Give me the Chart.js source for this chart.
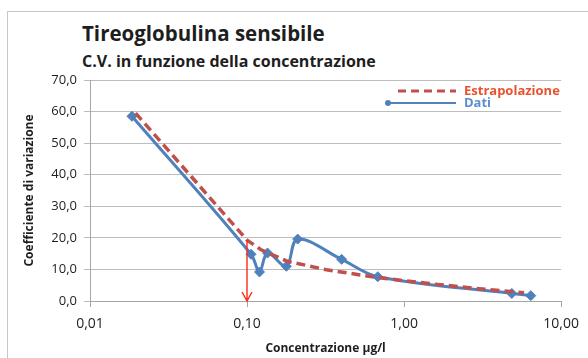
<!DOCTYPE html>
<html>
<head>
<meta charset="utf-8">
<script src="https://cdn.jsdelivr.net/npm/chart.js@4.4.1/dist/chart.umd.min.js"></script>
<style>
    html, body { margin: 0; padding: 0; background: #fff; overflow: hidden; }
    #wrap { position: relative; width: 588px; height: 358px; overflow: hidden; }
    #frame { position: absolute; left: 7px; top: 11px; width: 640px; height: 420px; border: 1px solid #c6c6c6; }
    #title { position: absolute; left: 82px; top: 19px; font: bold 20.5px 'Open Sans', sans-serif; color: #1e1e1e; white-space: nowrap; }
    #subtitle { position: absolute; left: 82px; top: 50px; font: bold 16px 'Open Sans', sans-serif; color: #1e1e1e; white-space: nowrap; }
    #chart { position: absolute; left: 0; top: 0; }
</style>
</head>
<body>
<div id="wrap">
    <div id="frame"></div>
    <div id="title">Tireoglobulina sensibile</div>
    <div id="subtitle">C.V. in funzione della concentrazione</div>
    <canvas id="chart" width="588" height="358"></canvas>
</div>
<script>
// Data
const datiX = [0.0185, 0.106, 0.120, 0.135, 0.178, 0.210, 0.40, 0.68, 4.85, 6.4];
const datiY = [58.5, 14.8, 9.2, 15.2, 11.0, 19.6, 13.2, 7.7, 2.4, 1.7];

const estrapX = [0.0195, 0.10, 0.122, 0.18, 0.32, 0.66, 1.4, 3.0, 5.8];
const estrapY = [59.5, 19.3, 16.3, 12.6, 9.9, 7.5, 5.6, 3.9, 2.6];

const xTicks = [0.01, 0.1, 1, 10];
const yTicks = [0, 10, 20, 30, 40, 50, 60, 70];

const arrowAt = { x: 0.1, yTop: 19.3, yBottom: 0 };

const BLUE = '#4f81bd';
const RED = '#c0504d';

const toPoints = (xs, ys) => xs.map((x, i) => ({ x: x, y: ys[i] }));
const comma = (v, d) => v.toFixed(d).replace('.', ',');

// Red arrow pointing down to the x axis
const arrowPlugin = {
    id: 'arrow',
    afterDatasetsDraw(chart) {
        const { ctx, scales: { x, y } } = chart;
        const px = Math.round(x.getPixelForValue(arrowAt.x));
        const top = y.getPixelForValue(arrowAt.yTop);
        const bottom = y.getPixelForValue(arrowAt.yBottom);
        ctx.save();
        ctx.strokeStyle = '#ff2a1a';
        ctx.lineWidth = 1.4;
        ctx.beginPath();
        ctx.moveTo(px, top);
        ctx.lineTo(px, bottom);
        ctx.moveTo(px - 5, bottom - 9);
        ctx.lineTo(px, bottom);
        ctx.lineTo(px + 5, bottom - 9);
        ctx.stroke();
        ctx.restore();
    }
};

// Legend drawn inside the plot, top right
const legendPlugin = {
    id: 'insideLegend',
    afterDraw(chart) {
        const { ctx } = chart;
        ctx.save();
        ctx.font = 'bold 13px "Open Sans", sans-serif';
        ctx.textBaseline = 'middle';

        // Estrapolazione
        ctx.strokeStyle = RED;
        ctx.lineWidth = 3;
        ctx.setLineDash([8, 5]);
        ctx.beginPath();
        ctx.moveTo(398, 91);
        ctx.lineTo(456, 91);
        ctx.stroke();
        ctx.setLineDash([]);
        ctx.fillStyle = '#e8522f';
        ctx.fillText('Estrapolazione', 464, 91);

        // Dati
        ctx.strokeStyle = BLUE;
        ctx.lineWidth = 2;
        ctx.beginPath();
        ctx.moveTo(388, 103);
        ctx.lineTo(456, 103);
        ctx.stroke();
        ctx.fillStyle = BLUE;
        ctx.beginPath();
        ctx.arc(388, 103, 3, 0, Math.PI * 2);
        ctx.fill();
        ctx.fillStyle = '#5b8fd1';
        ctx.fillText('Dati', 464, 103);
        ctx.restore();
    }
};

new Chart(document.getElementById('chart'), {
    type: 'line',
    data: {
        datasets: [
            {
                label: 'Estrapolazione',
                data: toPoints(estrapX, estrapY),
                borderColor: RED,
                borderWidth: 3.5,
                borderDash: [9, 5],
                pointRadius: 0,
                tension: 0,
                fill: false
            },
            {
                label: 'Dati',
                data: toPoints(datiX, datiY),
                borderColor: BLUE,
                backgroundColor: BLUE,
                borderWidth: 3,
                pointStyle: 'rectRot',
                pointRadius: 5,
                pointBorderWidth: 1,
                tension: 0.35,
                fill: false
            }
        ]
    },
    options: {
        responsive: false,
        animation: false,
        devicePixelRatio: 1,
        layout: {
            padding: { left: 20, right: 21, top: 80, bottom: 0 }
        },
        plugins: {
            legend: { display: false },
            title: { display: false },
            tooltip: { enabled: false }
        },
        scales: {
            x: {
                type: 'logarithmic',
                min: 0.01,
                max: 10,
                afterBuildTicks: (scale) => {
                    scale.ticks = xTicks.map(v => ({ value: v }));
                },
                afterFit: (scale) => { scale.height = 57; },
                grid: {
                    display: true,
                    drawOnChartArea: false,
                    drawTicks: true,
                    tickLength: 6,
                    color: '#a6a6a6'
                },
                border: { color: '#a6a6a6' },
                ticks: {
                    color: '#1e1e1e',
                    font: { family: 'Open Sans', size: 14 },
                    padding: 9,
                    maxRotation: 0,
                    autoSkip: false,
                    callback: (v) => comma(v, 2)
                },
                title: {
                    display: true,
                    text: 'Concentrazione µg/l',
                    color: '#1e1e1e',
                    font: { family: 'Open Sans', size: 12, weight: 'bold' },
                    padding: { top: 0, bottom: 2 }
                }
            },
            y: {
                min: 0,
                max: 70,
                afterBuildTicks: (scale) => {
                    scale.ticks = yTicks.map(v => ({ value: v }));
                },
                afterFit: (scale) => { scale.width = 70; },
                grid: {
                    color: '#bcbcbc',
                    tickLength: 6
                },
                border: { color: '#a6a6a6' },
                ticks: {
                    color: '#1e1e1e',
                    font: { family: 'Open Sans', size: 13 },
                    padding: 7,
                    callback: (v) => comma(v, 1)
                },
                title: {
                    display: true,
                    text: 'Coefficiente di variazione',
                    color: '#1e1e1e',
                    font: { family: 'Open Sans', size: 12, weight: 'bold' },
                    padding: { top: 2, bottom: 0 }
                }
            }
        }
    },
    plugins: [arrowPlugin, legendPlugin]
});
</script>
</body>
</html>
